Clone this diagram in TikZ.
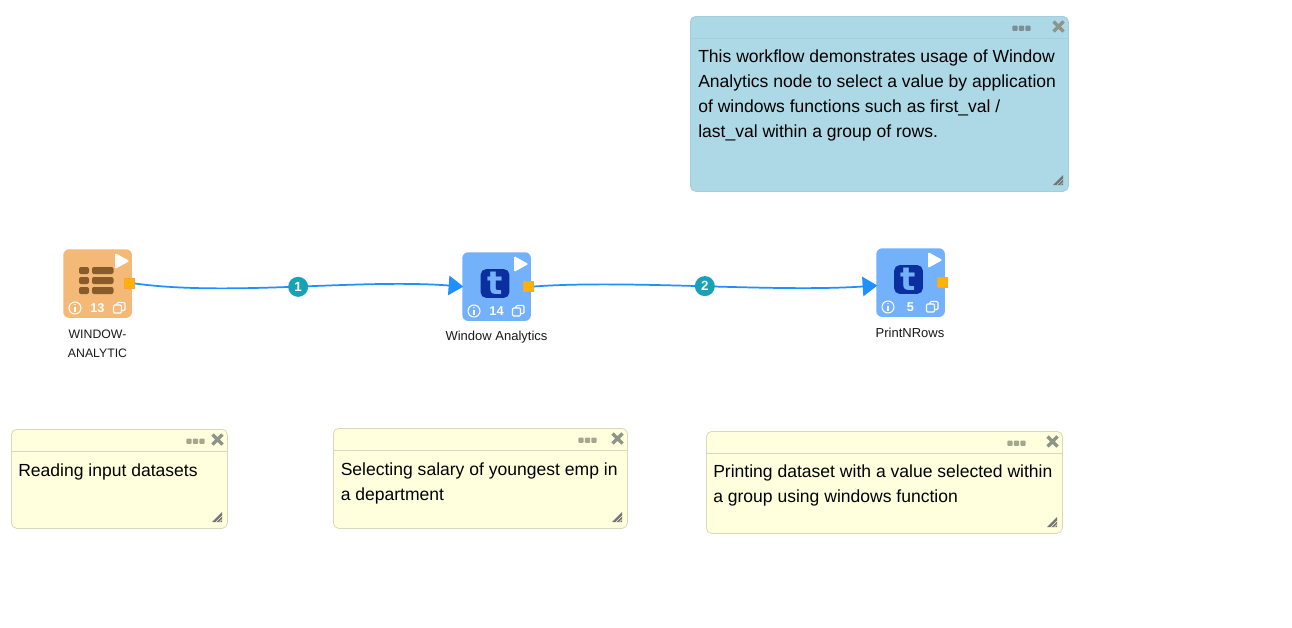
\documentclass[tikz,border=0pt]{standalone}
\usepackage{fontspec}
\setmainfont{Liberation Sans}
\newfontfamily\tfont{DejaVu Sans}
\usetikzlibrary{arrows.meta}
\definecolor{flow}{HTML}{1E90FF}
\definecolor{badge}{HTML}{17A2B8}
\definecolor{portfill}{HTML}{FFB300}
\definecolor{portline}{HTML}{FFA040}
\definecolor{orangebox}{HTML}{F4B976}
\definecolor{bluebox}{HTML}{74B1FB}
\definecolor{brownicon}{HTML}{875B2A}
\definecolor{navyicon}{HTML}{0B2F9F}
\definecolor{noteblue}{HTML}{ADD8E6}
\definecolor{noteyellow}{HTML}{FFFFDD}
\definecolor{yellowline}{HTML}{D8D8BC}
\definecolor{blueline}{HTML}{A2CEDD}
\definecolor{toolgrey}{HTML}{8F9488}
\definecolor{dotblue}{HTML}{7C8F99}
\definecolor{dotyellow}{HTML}{A6A68E}
\tikzset{
  wfbox/.style={rounded corners=4.5pt,minimum width=51.5pt,minimum height=51.5pt,inner sep=0pt,anchor=north west,fill=#1},
  wfport/.style={draw=portline,fill=portfill,line width=.6pt,minimum size=7.6pt,inner sep=0pt},
  wfnum/.style={text=white,font=\fontsize{9.6}{10}\selectfont\bfseries,inner sep=0pt},
  wflabel/.style={font=\fontsize{9.75}{14.25}\selectfont,align=center,inner sep=0pt,text=black!90},
  wflink/.style={draw=flow,line width=1.3pt,-{Triangle[length=11pt,width=14.5pt]}},
  wfbadge/.style={circle,fill=badge,text=white,minimum size=15pt,inner sep=0pt,font=\fontsize{10}{10}\selectfont\bfseries},
  notebox/.style={rounded corners=4pt,draw=#1,line width=.6pt,inner sep=0pt,anchor=north west},
  notetext/.style={anchor=north west,inner sep=0pt,align=left,text=black,font=\fontsize{13.15}{18.75}\selectfont},
  tbox/.style={rounded corners=4pt,fill=navyicon,minimum size=21.5pt,inner sep=0pt,text=bluebox,font=\tfont\fontsize{24}{24}\selectfont\bfseries},
}
% #1 name #2 x #3 y #4 colour #5 number
\newcommand\wfnode[5]{%
  \begin{scope}[shift={(#2,#3)}]
    \node[wfbox=#4] (#1) at (0,0) {};
    \fill[white,rounded corners=1pt] (52,4) -- (52,20) -- (66.5,12) -- cycle;
    \draw[white,line width=.75pt] (12,59) circle (6);
    \fill[white] (12,55.6) circle (.8);
    \draw[white,line width=1pt] (12,57.6) -- (12,62.6);
    \node[wfnum] (#1num) at (34.5,59) {#5};
    \draw[white,line width=.8pt,rounded corners=.8pt] (54,53.5) rectangle (62,61.5);
    \fill[#4] (50,56) rectangle (58,64);
    \draw[white,line width=.8pt,rounded corners=.8pt] (50.5,56) rectangle (58.5,64);
    \node[wfport] (#1port) at (66.5,34.5) {};
  \end{scope}}
% #1 name #2 x1 #3 y1 #4 width #5 height #6 fill #7 line #8 dot colour #9 dot offset
\newcommand\notecard[9]{%
  \begin{scope}[shift={(#2,#3)}]
    \node[notebox=#7,fill=#6,minimum width=#4*.75pt,minimum height=#5*.75pt] (#1) at (0,0) {};
    \draw[#7,line width=.6pt] (0,22) -- (#4,22);
    \foreach \d in {0,6.5,13}
      \fill[#8,rounded corners=.8pt] (#4+#9+\d-2.7,12.2-2.7) rectangle (#4+#9+\d+2.7,12.2+2.7);
    \draw[toolgrey,line width=2.6pt] (#4-14.5,5.5) -- (#4-4.5,15.5) (#4-14.5,15.5) -- (#4-4.5,5.5);
    \fill[black!55] (#4-15,#5-6) -- (#4-5,#5-16) -- (#4-5,#5-6) -- cycle;
    \draw[#6,line width=.45pt] (#4-11,#5-6) -- (#4-5,#5-12) (#4-7.5,#5-6) -- (#4-5,#5-8.5);
  \end{scope}}
\begin{document}
\begin{tikzpicture}[x=.75pt,y=-.75pt]
\useasboundingbox (0,0) rectangle (1292,628);
\fill[white] (0,0) rectangle (1292,628);

% notes
\notecard{noteA}{690}{16}{378}{175}{noteblue}{blueline}{dotblue}{-53}
\node[notetext] (noteAtext) at (698,49.5) {This workflow demonstrates usage of Window\\Analytics node to select a value by application\\of windows functions such as first\_val /\\last\_val within a group of rows.};
\notecard{noteB}{11}{429}{216}{99}{noteyellow}{yellowline}{dotyellow}{-38}
\node[notetext] (noteBtext) at (18,463.5) {Reading input datasets};
\notecard{noteC}{333}{428}{294}{100}{noteyellow}{yellowline}{dotyellow}{-46}
\node[notetext] (noteCtext) at (340.5,462.5) {Selecting salary of youngest emp in\\a department};
\notecard{noteD}{706}{431}{356}{102}{noteyellow}{yellowline}{dotyellow}{-52}
\node[notetext] (noteDtext) at (713,464.5) {Printing dataset with a value selected within\\a group using windows function};

% workflow nodes
\wfnode{read}{63}{249}{orangebox}{13}
\foreach \r in {18,28,38}{
  \fill[brownicon,rounded corners=1.5pt] (79,249+\r) rectangle (89,249+\r+7);
  \fill[brownicon,rounded corners=1.5pt] (92,249+\r) rectangle (113.5,249+\r+7);
}
\wfnode{window}{462}{252}{bluebox}{14}
\node[tbox] (windowicon) at (495,283.5) {t};
\wfnode{print}{876}{248}{bluebox}{5}
\node[tbox] (printicon) at (908.5,279.5) {t};

% labels
\node[wflabel,font=\fontsize{9.2}{14.25}\selectfont] (readlabel) at (97.5,343.5) {WINDOW-\\ANALYTIC};
\node[wflabel] (windowlabel) at (496.5,337) {Window Analytics};
\node[wflabel] (printlabel) at (910,333) {PrintNRows};

% connectors
\draw[wflink] (readport.east) .. controls +(95,13) and +(-105,-8) .. node[wfbadge,pos=.508] (badgeone) {1} ([xshift=1pt]window.west);
\draw[wflink] (windowport.east) .. controls +(95,-7) and +(-105,7) .. node[wfbadge,pos=.508] (badgetwo) {2} ([xshift=1pt,yshift=-2.2pt]print.west);
\end{tikzpicture}
\end{document}
